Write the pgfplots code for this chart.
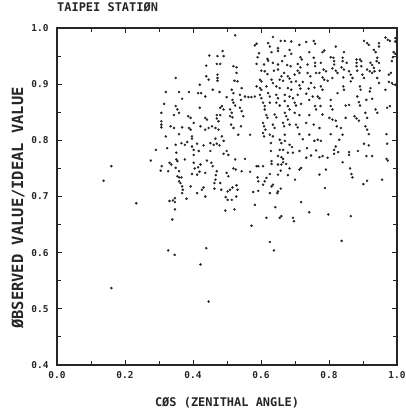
\documentclass[border=0pt]{standalone}
\usepackage{pgfplots}
\pgfplotsset{compat=1.18}
\usepackage{pgfplotstable}
\usepackage{fontspec}
\setmainfont{DejaVu Sans Mono}

% cos(zenithal angle) vs. observed/ideal ratio, Taipei station
\pgfplotstableread{
x y
0.448 0.951
0.472 0.950
0.487 0.959
0.490 0.950
0.470 0.936
0.480 0.936
0.439 0.933
0.349 0.911
0.439 0.914
0.446 0.908
0.472 0.917
0.472 0.911
0.472 0.906
0.420 0.899
0.458 0.890
0.478 0.886
0.320 0.886
0.359 0.886
0.388 0.886
0.415 0.884
0.424 0.884
0.436 0.878
0.368 0.874
0.499 0.877
0.315 0.865
0.349 0.861
0.354 0.855
0.359 0.849
0.420 0.858
0.480 0.858
0.485 0.861
0.490 0.855
0.307 0.849
0.344 0.845
0.386 0.843
0.393 0.840
0.436 0.840
0.441 0.837
0.470 0.845
0.470 0.839
0.475 0.834
0.480 0.845
0.307 0.834
0.307 0.828
0.307 0.823
0.402 0.831
0.334 0.825
0.344 0.822
0.368 0.823
0.388 0.822
0.393 0.819
0.422 0.825
0.436 0.819
0.446 0.822
0.456 0.825
0.466 0.822
0.475 0.819
0.320 0.807
0.359 0.811
0.397 0.807
0.485 0.807
0.291 0.783
0.324 0.786
0.276 0.764
0.349 0.792
0.366 0.795
0.376 0.792
0.383 0.797
0.397 0.789
0.402 0.783
0.412 0.794
0.417 0.781
0.431 0.791
0.451 0.795
0.461 0.792
0.470 0.794
0.478 0.791
0.490 0.799
0.466 0.803
0.397 0.803
0.351 0.778
0.351 0.766
0.354 0.763
0.376 0.766
0.402 0.774
0.451 0.781
0.490 0.776
0.499 0.781
0.504 0.774
0.524 0.766
0.553 0.767
0.308 0.754
0.305 0.746
0.331 0.760
0.336 0.757
0.327 0.745
0.349 0.751
0.359 0.745
0.402 0.760
0.405 0.750
0.415 0.752
0.419 0.744
0.412 0.739
0.422 0.757
0.441 0.764
0.454 0.760
0.458 0.754
0.470 0.745
0.467 0.738
0.397 0.740
0.354 0.736
0.359 0.734
0.366 0.734
0.436 0.742
0.499 0.742
0.504 0.736
0.519 0.750
0.526 0.748
0.543 0.745
0.568 0.744
0.587 0.754
0.592 0.754
0.606 0.754
0.590 0.734
0.592 0.727
0.606 0.721
0.611 0.727
0.616 0.733
0.359 0.727
0.363 0.724
0.466 0.730
0.463 0.724
0.480 0.724
0.368 0.718
0.370 0.712
0.393 0.718
0.431 0.716
0.426 0.712
0.463 0.714
0.483 0.712
0.509 0.712
0.516 0.716
0.528 0.720
0.531 0.712
0.502 0.709
0.577 0.708
0.592 0.710
0.368 0.706
0.412 0.706
0.436 0.700
0.496 0.699
0.502 0.694
0.514 0.694
0.527 0.700
0.381 0.696
0.331 0.692
0.341 0.693
0.347 0.697
0.347 0.690
0.582 0.685
0.347 0.677
0.495 0.675
0.522 0.677
0.339 0.659
0.572 0.648
0.327 0.604
0.346 0.596
0.439 0.608
0.422 0.579
0.446 0.513
0.137 0.728
0.160 0.754
0.160 0.537
0.233 0.688
0.524 0.987
0.635 0.984
0.587 0.972
0.582 0.969
0.621 0.973
0.626 0.967
0.658 0.977
0.670 0.977
0.689 0.976
0.713 0.970
0.733 0.975
0.755 0.977
0.759 0.972
0.650 0.964
0.650 0.959
0.594 0.955
0.631 0.957
0.684 0.961
0.689 0.954
0.742 0.957
0.519 0.932
0.528 0.930
0.590 0.948
0.619 0.945
0.621 0.942
0.670 0.950
0.716 0.948
0.720 0.944
0.755 0.947
0.587 0.936
0.609 0.935
0.635 0.938
0.650 0.935
0.662 0.941
0.677 0.934
0.687 0.932
0.708 0.936
0.716 0.930
0.737 0.935
0.759 0.938
0.759 0.932
0.528 0.920
0.601 0.924
0.611 0.923
0.619 0.918
0.638 0.924
0.650 0.926
0.668 0.920
0.660 0.914
0.655 0.908
0.665 0.906
0.679 0.914
0.684 0.910
0.689 0.904
0.699 0.917
0.708 0.924
0.713 0.920
0.737 0.920
0.745 0.914
0.762 0.920
0.522 0.906
0.531 0.905
0.597 0.908
0.601 0.905
0.631 0.908
0.635 0.902
0.703 0.905
0.723 0.904
0.747 0.902
0.514 0.890
0.519 0.884
0.543 0.893
0.587 0.896
0.597 0.893
0.601 0.890
0.616 0.896
0.645 0.896
0.655 0.893
0.679 0.893
0.689 0.890
0.713 0.898
0.716 0.892
0.740 0.892
0.757 0.894
0.538 0.881
0.553 0.878
0.563 0.877
0.572 0.877
0.582 0.878
0.597 0.881
0.601 0.875
0.621 0.884
0.626 0.878
0.645 0.881
0.650 0.875
0.670 0.881
0.684 0.878
0.694 0.875
0.708 0.881
0.733 0.883
0.752 0.878
0.516 0.872
0.519 0.867
0.524 0.862
0.541 0.872
0.509 0.855
0.514 0.849
0.538 0.858
0.543 0.852
0.606 0.867
0.611 0.861
0.611 0.855
0.626 0.867
0.645 0.867
0.655 0.862
0.670 0.870
0.679 0.861
0.684 0.855
0.699 0.867
0.703 0.862
0.718 0.865
0.742 0.872
0.759 0.861
0.762 0.855
0.509 0.843
0.516 0.841
0.548 0.843
0.616 0.845
0.619 0.840
0.640 0.846
0.645 0.841
0.670 0.849
0.674 0.843
0.679 0.837
0.699 0.849
0.713 0.845
0.742 0.845
0.512 0.828
0.519 0.822
0.541 0.825
0.606 0.831
0.609 0.825
0.613 0.819
0.635 0.828
0.640 0.822
0.665 0.831
0.668 0.825
0.684 0.828
0.703 0.828
0.708 0.823
0.733 0.831
0.755 0.828
0.533 0.810
0.568 0.810
0.606 0.813
0.609 0.807
0.626 0.810
0.635 0.807
0.670 0.810
0.713 0.811
0.742 0.810
0.903 0.977
0.912 0.973
0.917 0.970
0.947 0.973
0.947 0.967
0.966 0.983
0.973 0.979
0.979 0.977
0.995 0.982
0.995 0.976
0.820 0.967
0.786 0.960
0.781 0.957
0.844 0.957
0.932 0.961
0.937 0.957
0.990 0.957
0.995 0.954
0.988 0.948
0.805 0.948
0.813 0.947
0.840 0.947
0.840 0.941
0.881 0.944
0.891 0.944
0.942 0.947
0.940 0.941
0.776 0.938
0.815 0.941
0.815 0.935
0.852 0.938
0.881 0.938
0.881 0.932
0.895 0.941
0.895 0.932
0.922 0.938
0.927 0.934
0.932 0.929
0.947 0.938
0.985 0.941
0.784 0.926
0.791 0.923
0.810 0.928
0.820 0.924
0.825 0.920
0.837 0.930
0.844 0.926
0.859 0.923
0.864 0.917
0.883 0.924
0.912 0.926
0.920 0.923
0.927 0.920
0.934 0.923
0.949 0.924
0.976 0.917
0.982 0.920
0.772 0.920
0.781 0.912
0.786 0.908
0.796 0.906
0.810 0.911
0.842 0.912
0.869 0.911
0.898 0.917
0.903 0.911
0.942 0.911
0.976 0.904
0.985 0.902
0.995 0.899
0.776 0.896
0.781 0.890
0.842 0.896
0.844 0.890
0.864 0.905
0.891 0.896
0.893 0.890
0.920 0.887
0.922 0.893
0.947 0.902
0.966 0.890
0.767 0.878
0.772 0.875
0.825 0.884
0.805 0.872
0.883 0.878
0.910 0.872
0.927 0.874
0.775 0.861
0.805 0.861
0.810 0.855
0.849 0.862
0.859 0.863
0.888 0.868
0.891 0.862
0.937 0.855
0.942 0.849
0.971 0.858
0.979 0.861
0.781 0.846
0.801 0.840
0.810 0.837
0.820 0.835
0.849 0.840
0.875 0.843
0.881 0.839
0.888 0.835
0.907 0.849
0.912 0.840
0.823 0.825
0.835 0.822
0.907 0.825
0.912 0.819
0.805 0.811
0.840 0.810
0.917 0.811
0.969 0.811
0.772 0.822
0.655 0.801
0.660 0.795
0.670 0.799
0.629 0.795
0.684 0.792
0.691 0.788
0.723 0.802
0.757 0.799
0.767 0.801
0.776 0.799
0.820 0.789
0.815 0.783
0.830 0.801
0.735 0.786
0.713 0.781
0.762 0.782
0.655 0.783
0.665 0.783
0.629 0.781
0.679 0.778
0.694 0.778
0.650 0.772
0.660 0.770
0.665 0.767
0.733 0.769
0.747 0.773
0.772 0.770
0.781 0.772
0.796 0.769
0.815 0.776
0.827 0.779
0.859 0.779
0.859 0.774
0.885 0.781
0.903 0.794
0.917 0.791
0.971 0.794
0.910 0.772
0.927 0.772
0.969 0.767
0.973 0.764
0.840 0.761
0.631 0.763
0.631 0.758
0.665 0.761
0.674 0.758
0.650 0.757
0.660 0.757
0.684 0.750
0.718 0.751
0.713 0.748
0.626 0.740
0.650 0.739
0.658 0.746
0.679 0.738
0.700 0.730
0.772 0.739
0.791 0.748
0.862 0.750
0.866 0.740
0.869 0.734
0.901 0.722
0.912 0.728
0.956 0.730
0.631 0.718
0.635 0.721
0.650 0.709
0.658 0.714
0.648 0.706
0.626 0.706
0.788 0.715
0.718 0.690
0.642 0.681
0.742 0.672
0.655 0.662
0.660 0.665
0.616 0.662
0.694 0.662
0.697 0.656
0.798 0.668
0.864 0.665
0.626 0.619
0.638 0.604
0.837 0.621
}\obsratio

\begin{document}
\begin{tikzpicture}
\begin{axis}[
  scale only axis,
  width=340bp, height=337bp,
  xmin=0, xmax=1, ymin=0.4, ymax=1.0,
  xtick={0,0.2,...,1.0},
  minor xtick={0.1,0.3,0.5,0.7,0.9},
  ytick={0.4,0.5,...,1.0},
  minor ytick={0.45,0.55,0.65,0.75,0.85,0.95},
  tick pos=both,
  tick align=inside,
  major tick length=5bp,
  minor tick length=4bp,
  every tick/.style={black!85, line width=0.9bp},
  axis line style={black!85, line width=1.1bp},
  /pgf/number format/.cd, fixed, fixed zerofill, precision=1, assume math mode=true,
  /pgfplots/.cd,
  tick label style={font=\bfseries\fontsize{9.5}{10}\selectfont, text=black!85},
  xticklabel style={yshift=-3bp},
  yticklabel style={xshift=-5bp},
  title={TAIPEI STATIØN},
  title style={at={(axis description cs:0,1.0326)}, anchor=base west,
    font=\bfseries\fontsize{12}{12}\selectfont, text=black!85, inner sep=0pt},
  xlabel={CØS (ZENITHAL ANGLE)},
  xlabel style={at={(axis description cs:0.5,-0.1217)}, anchor=base,
    font=\bfseries\fontsize{12}{12}\selectfont, text=black!85, inner sep=0pt},
  ylabel={ØBSERVED VALUE/IDEAL VALUE},
  ylabel style={at={(axis description cs:-0.115,0.466)}, anchor=center,
    font=\bfseries\fontsize{15.5}{16}\selectfont, text=black!85, inner sep=0pt},
]
\addplot[only marks, mark=*, mark size=1.05bp, black!85] table[x=x, y=y] {\obsratio};
\coordinate (sw) at (rel axis cs:0,0);
\coordinate (ne) at (rel axis cs:1,1);
\end{axis}
\pgfresetboundingbox
\path[use as bounding box] ([shift={(-57bp,-45bp)}]sw) rectangle ([shift={(9bp,28bp)}]ne);
\end{tikzpicture}
\end{document}
